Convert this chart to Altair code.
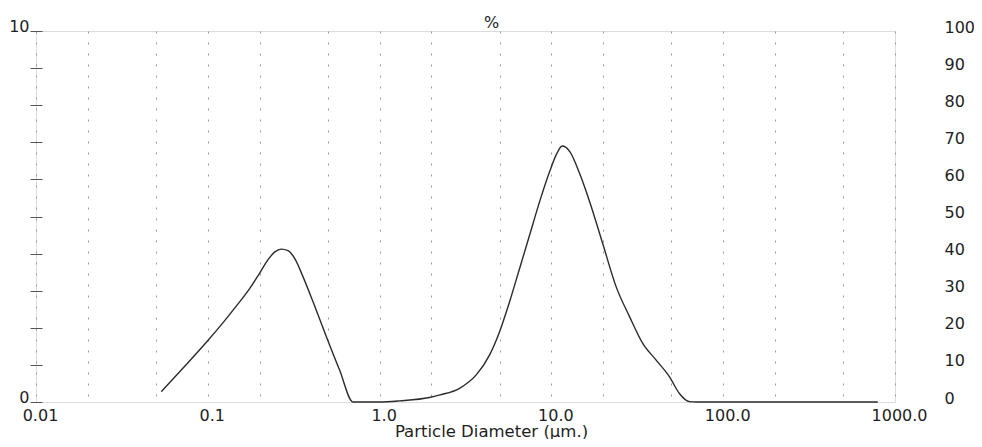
import altair as alt
import pandas as pd

# Particle size distribution (volume %)
diameter_um = [0.0536, 0.0716, 0.0981, 0.1227, 0.1468, 0.1756, 0.2001, 0.2238, 0.2448,
               0.2677, 0.2928, 0.3204, 0.358, 0.4098, 0.49, 0.585, 0.70, 1.0, 1.31,
               1.95, 2.24, 2.92, 3.65, 4.37, 5.0, 5.71, 6.53, 7.47, 8.54, 9.77, 10.66,
               11.55, 12.8, 14.6, 16.7, 19.95, 23.8, 28.5, 34.0, 40.7, 48.7, 55.6,
               63.6, 70.0, 200.0, 794.0]
volume_pct = [0.28, 0.91, 1.61, 2.14, 2.59, 3.06, 3.47, 3.83, 4.04,
              4.12, 4.08, 3.87, 3.38, 2.70, 1.76, 0.86, 0.0, 0.0, 0.03,
              0.12, 0.19, 0.37, 0.73, 1.27, 1.90, 2.70, 3.60, 4.50, 5.40, 6.21, 6.66,
              6.90, 6.75, 6.16, 5.40, 4.25, 3.11, 2.30, 1.58, 1.13, 0.68, 0.23,
              0.01, 0.0, 0.0, 0.0]

grid_ticks = [0.01, 0.02, 0.05, 0.1, 0.2, 0.5, 1, 2, 5, 10, 20, 50, 100, 200, 500, 1000]
x_label_values = [0.01, 0.1, 1, 10, 100, 1000]
x_label_texts = ["0.01", "0.1", "1.0", "10.0", "100.0", "1000.0"]

left_ticks = [0, 1, 2, 3, 4, 5, 6, 7, 8, 9, 10]
right_ticks = [0, 10, 20, 30, 40, 50, 60, 70, 80, 90, 100]

df = pd.DataFrame({"d": diameter_um, "v": volume_pct})
df_right = pd.DataFrame({"cum": [right_ticks[0], right_ticks[-1]]})

expr = "''"
for val, txt in zip(reversed(x_label_values), reversed(x_label_texts)):
    expr = f"(abs(datum.value - {val}) < {val}*1e-6) ? '{txt}' : ({expr})"

FONT = "DejaVu Sans"
TXT = "#1e1e1e"

line = alt.Chart(df).mark_line(color="#2b2b2b", strokeWidth=1.4, interpolate="monotone").encode(
    x=alt.X("d:Q",
            scale=alt.Scale(type="log", domain=[0.01, 1000], nice=False),
            axis=alt.Axis(values=grid_ticks, labelExpr=expr, grid=True,
                          gridColor="#9a9a9a", gridDash=[2, 9], gridWidth=1,
                          domain=False, ticks=False, labelOverlap=False,
                          labelFlush=False, labelBound=False,
                          labelFont=FONT, labelFontSize=16, labelColor=TXT,
                          labelPadding=5, labelOffset=4,
                          title="Particle Diameter (µm.)", titleFont=FONT,
                          titleFontSize=16.5, titleFontWeight="normal", titleColor=TXT,
                          titleX=455, titleY=34, titleAlign="center",
                          titleBaseline="alphabetic")),
    y=alt.Y("v:Q",
            scale=alt.Scale(domain=[0, 10], nice=False),
            axis=alt.Axis(values=left_ticks, grid=False, domain=False,
                          offset=-6, tickSize=12, tickColor="#555", tickWidth=1,
                          labelExpr="(datum.value == 0 || datum.value == 10) ? datum.label : ''",
                          labelFont=FONT, labelFontSize=16, labelColor=TXT,
                          labelPadding=1, labelBaseline="middle", labelOffset=-5,
                          title=None)),
)

right = alt.Chart(df_right).mark_point(opacity=0).encode(
    y=alt.Y("cum:Q",
            scale=alt.Scale(domain=[0, 100], nice=False),
            axis=alt.Axis(orient="right", values=right_ticks, grid=False,
                          domain=False, ticks=False, labelPadding=49,
                          labelFont=FONT, labelFontSize=16, labelColor=TXT,
                          labelBaseline="middle", labelOffset=-4, title=None)),
)

chart = alt.layer(line, right).resolve_scale(y="independent").properties(
    width=859,
    height=371,
    autosize=alt.AutoSizeParams(type="none"),
    padding={"left": 28, "top": 23, "right": 79, "bottom": 37},
    title=alt.Title("%", anchor="start", frame="group", dx=448, offset=-13,
                    font=FONT, fontSize=16, fontWeight="normal", color=TXT),
).configure_view(
    stroke="#8a8a8a", strokeDash=[4, 3], strokeWidth=1
).configure(background="white")

chart.save("out.html", embed_options={"renderer": "svg", "actions": False})
